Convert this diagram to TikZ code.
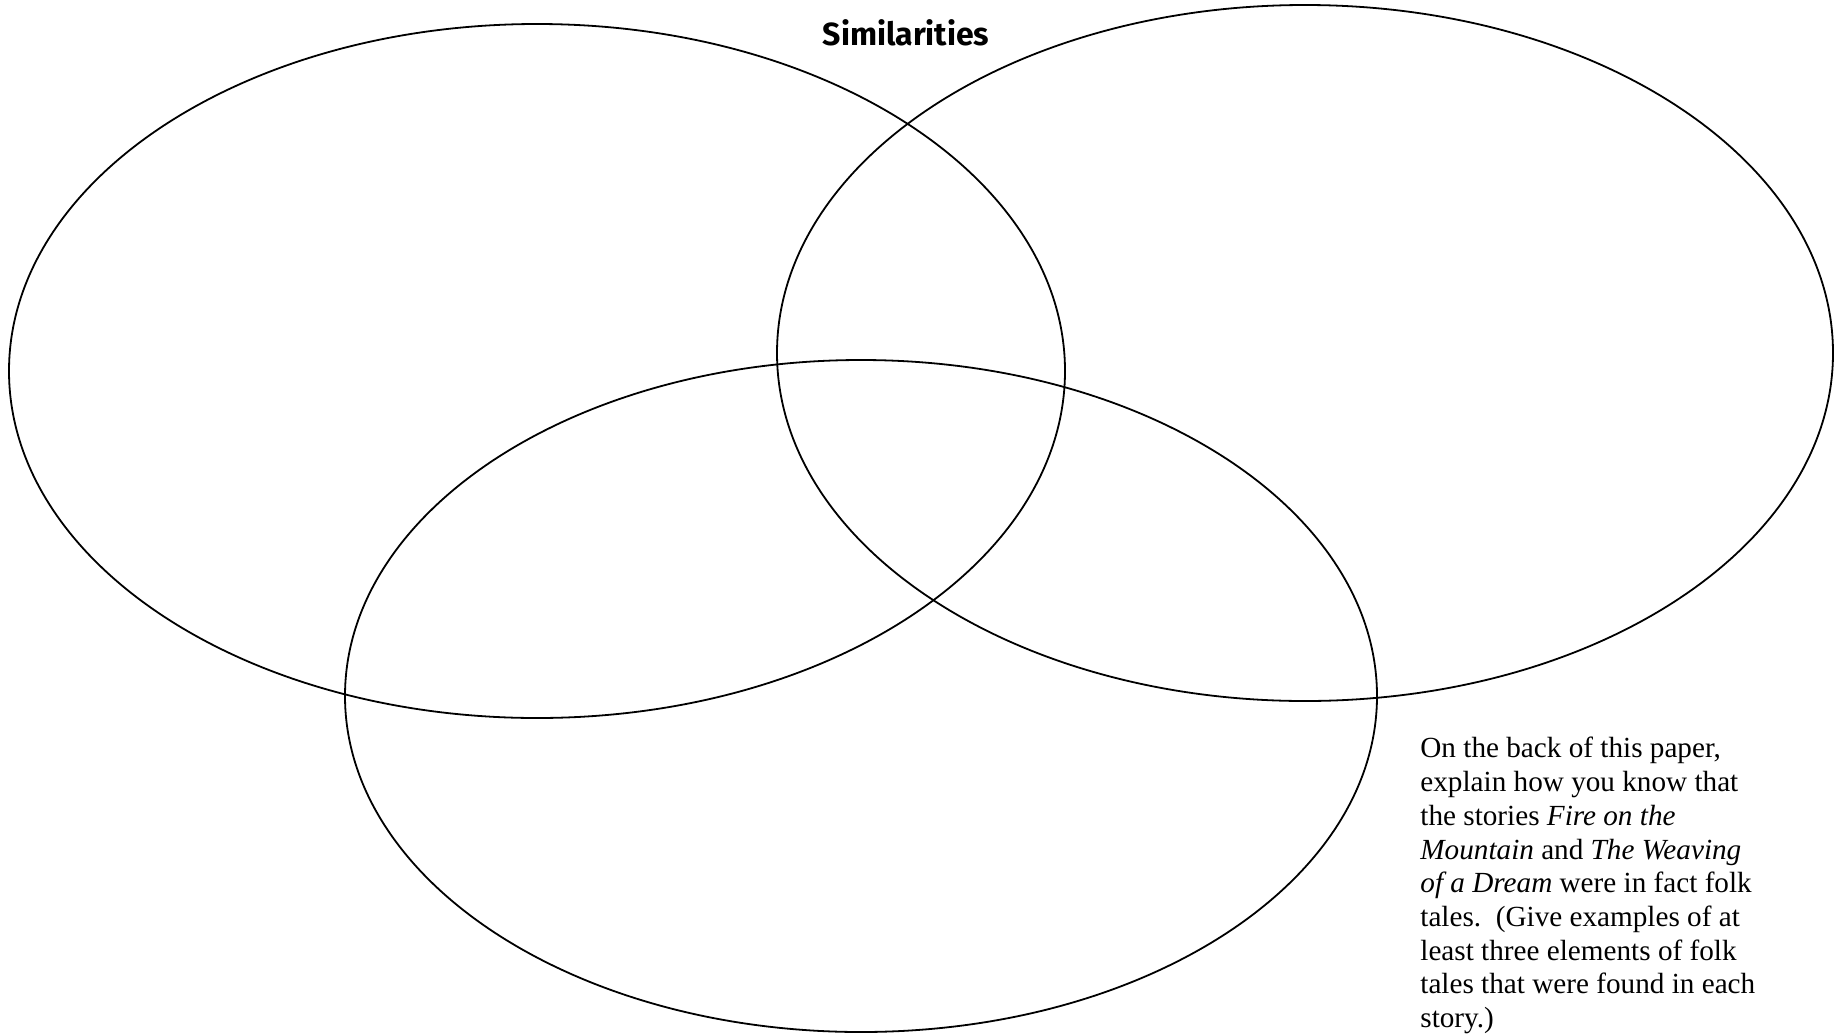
\documentclass[tikz,border=0pt]{standalone}
\usepackage{fontspec}
\setmainfont{Liberation Serif}
\newfontfamily\titlefont{Fira Sans}
\usetikzlibrary{shapes.geometric}

\begin{document}
\begin{tikzpicture}[x=1pt, y=-1pt, thick, venn/.style={draw, ellipse, line width=1.8pt, inner sep=0pt}]

\useasboundingbox (0,0) rectangle (1845,1034);

\node (left) [venn, minimum width=1056pt, minimum height=694pt] at (537,371) {};
\node (right) [venn, minimum width=1056pt, minimum height=696pt] at (1305,353) {};
\node (bottom) [venn, minimum width=1032pt, minimum height=672pt] at (861,696) {};

\node (sim) [anchor=base, font=\titlefont\bfseries\fontsize{32}{36}\selectfont] at (906,45) {Similarities};

\node (note) [anchor=north west, inner sep=0pt, align=left, font=\fontsize{29.2}{33.7}\selectfont] at (1420,737) {On the back of this paper,\\
explain how you know that\\
the stories \textit{Fire on the}\\
\textit{Mountain} and \textit{The Weaving}\\
\textit{of a Dream} were in fact folk\\
tales.\ \ (Give examples of at\\
least three elements of folk\\
tales that were found in each\\
story.)};

\end{tikzpicture}
\end{document}
